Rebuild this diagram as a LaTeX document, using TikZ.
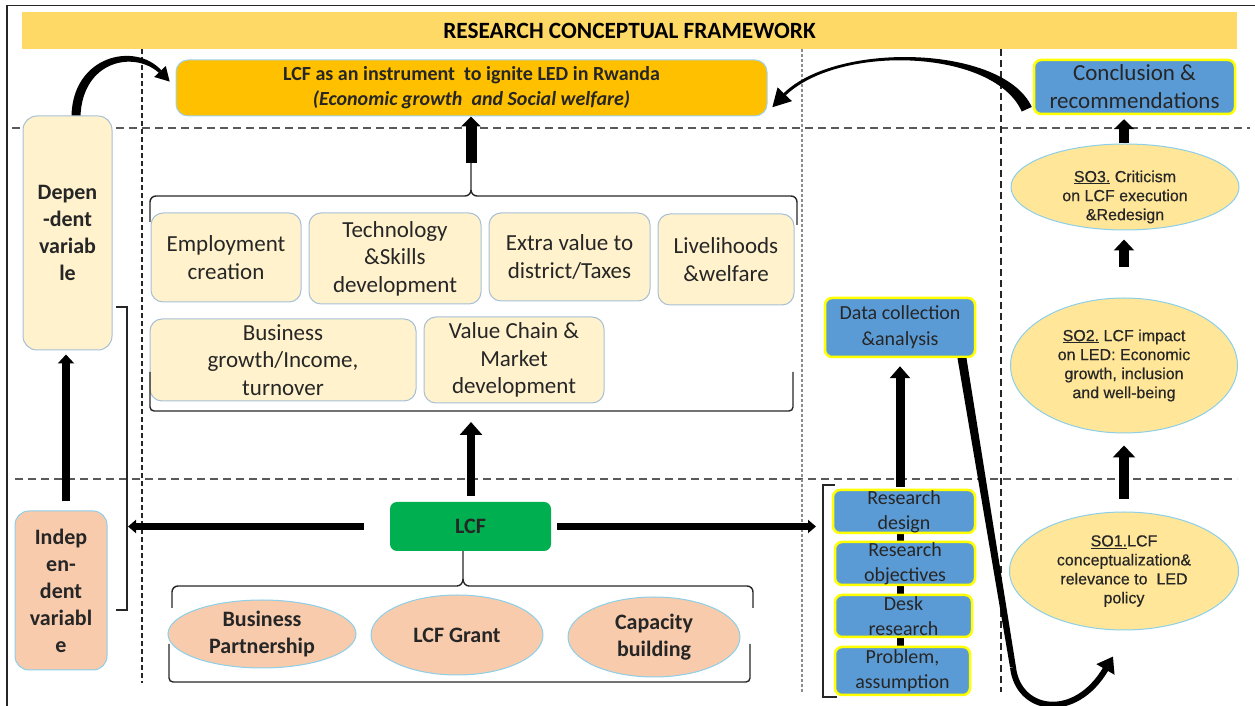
\documentclass[tikz,border=0pt]{standalone}
\usepackage{fontspec}
\setmainfont{Carlito}
\newfontfamily\arialf[FakeBold=0.5]{Liberation Sans}
\usetikzlibrary{arrows.meta,shapes.geometric,calc}
\pgfdeclarelayer{bg}
\pgfsetlayers{bg,main}
\definecolor{band}{HTML}{FFD966}
\definecolor{gold}{HTML}{FFC000}
\definecolor{goldline}{HTML}{9FD3EA}
\definecolor{blueb}{HTML}{5B9BD5}
\definecolor{yel}{HTML}{FFFF00}
\definecolor{cream}{HTML}{FFF2CC}
\definecolor{creamline}{HTML}{A7BFD6}
\definecolor{peach}{HTML}{F8CBAD}
\definecolor{cyanline}{HTML}{8CCFE8}
\definecolor{sand}{HTML}{FFE699}
\definecolor{lcfgreen}{HTML}{00B050}
\definecolor{ink}{HTML}{262626}
\definecolor{dashgray}{HTML}{595959}
\definecolor{dotgray}{HTML}{8C8C8C}
\begin{document}
\begin{tikzpicture}[x=1pt,y=1pt,
  every node/.style={inner sep=0pt, text=ink},
  fat/.style={line width=9pt, draw=black, -{Triangle[width=20pt,length=12pt]}},
  slim/.style={line width=7pt, draw=black, -{Triangle[width=13pt,length=8pt]}},
  brk/.style={draw=ink, line width=1.4pt},
  effbox/.style={draw=creamline, line width=1pt, fill=cream, rounded corners=12pt, align=center, font=\fontsize{23}{27.5}\selectfont},
  bluebox/.style={draw=yel, line width=2.5pt, fill=blueb, rounded corners=7pt, align=center},
  rtext/.style={align=center, font=\fontsize{20}{25}\selectfont},
  peachell/.style={draw=cyanline, line width=1pt, fill=peach, ellipse},
  soell/.style={draw=cyanline, line width=1pt, fill=sand, ellipse},
  sotext/.style={align=center, font=\arialf\fontsize{16}{19}\selectfont},
  boldtxt/.style={align=center, font=\fontsize{22}{27}\selectfont\bfseries},
  hdash/.style={draw=dashgray, line width=2pt, dash pattern=on 8pt off 5pt},
]
\useasboundingbox (0,0) rectangle (1255,706);

% page frame
\draw[line width=1.2pt, draw=ink] (7,0) -- (7,700.5) -- (1255,700.5);

% title band
\node[fill=band, minimum width=1215pt, minimum height=37pt, font=\fontsize{23.3}{26}\selectfont\bfseries, text=black] (title) at (629.5,675.5) {RESEARCH CONCEPTUAL FRAMEWORK};

% ---- goal and outcome boxes
\node[draw=goldline, line width=1pt, fill=gold, rounded corners=12pt, minimum width=591pt, minimum height=56pt, align=center, font=\fontsize{20}{25}\selectfont\bfseries] (top) at (471.5,618)
  {LCF as an instrument\ \ to ignite LED in Rwanda\\\textit{(Economic growth\ \ and Social welfare)}};
\node[bluebox, minimum width=201pt, minimum height=54pt, font=\fontsize{23}{28}\selectfont] (concl) at (1134.5,619) {Conclusion \&\\recommendations};

% ---- variables
\node[draw=creamline, fill=cream, line width=1pt, rounded corners=14pt, minimum width=89pt, minimum height=234pt, boldtxt] (dep) at (67.5,473) {Depen\\-dent\\variab\\le};
\node[draw=cyanline, fill=peach, line width=1pt, rounded corners=14pt, minimum width=92pt, minimum height=159pt, boldtxt] (indep) at (61,115.5) {Indep\\en-\\dent\\variabl\\e};

% ---- effects of LCF
\node[effbox, minimum width=150pt, minimum height=89pt] (emp) at (226,448.5) {Employment\\creation};
\node[effbox, minimum width=172pt, minimum height=91pt] (tech) at (395,447.5) {Technology\\\&Skills\\development};
\node[effbox, minimum width=161pt, minimum height=88pt] (extra) at (569.5,449) {Extra value to\\district/Taxes};
\node[effbox, minimum width=136pt, minimum height=91pt] (live) at (726,446.5) {Livelihoods\\\&welfare};
\node[effbox, minimum width=266pt, minimum height=82pt] (biz) at (283,346) {Business\\growth/Income,\\turnover};
\node[effbox, minimum width=180pt, minimum height=86pt] (vc) at (514,346) {Value Chain \&\\Market\\development};

% ---- LCF and its components
\node[fill=lcfgreen, rounded corners=7pt, minimum width=161pt, minimum height=49pt, font=\fontsize{22}{26}\selectfont\bfseries] (lcf) at (470.5,179.5) {LCF};
\node[peachell, minimum width=188pt, minimum height=68pt] (bp) at (262,72) {};
\node[boldtxt] (bpt) at (bp.center) {Business\\Partnership};
\node[peachell, minimum width=172pt, minimum height=80pt] (grant) at (457,71) {};
\node[boldtxt] (grantt) at (grant.center) {LCF Grant};
\node[peachell, minimum width=172pt, minimum height=80pt] (cap) at (654,69) {};
\node[boldtxt] (capt) at (cap.center) {Capacity\\building};

% ---- research steps
\node[bluebox, minimum width=150pt, minimum height=59pt, font=\fontsize{20}{26}\selectfont] (dc) at (900,378.5) {Data collection\\\&analysis};
\node[bluebox, minimum width=142pt, minimum height=43pt] (rd) at (904,194.5) {};
\node[rtext] (rdt) at (rd.center) {Research\\design};
\node[bluebox, minimum width=140pt, minimum height=43pt] (ro) at (905,142.5) {};
\node[rtext] (rot) at (ro.center) {Research\\objectives};
\node[bluebox, minimum width=137pt, minimum height=42pt] (dr) at (903.5,90) {};
\node[rtext] (drt) at (dr.center) {Desk\\research};
\node[bluebox, minimum width=135pt, minimum height=48pt] (pa) at (902.5,35) {};
\node[rtext] (pat) at (pa.center) {Problem,\\assumption};

% ---- specific objectives
\node[soell, minimum width=228pt, minimum height=86pt] (so3) at (1125,519) {};
\node[sotext] (so3t) at ($(so3.center)+(0,-10)$) {\underline{SO3.} Criticism\\on LCF execution\\\&Redesign};
\node[soell, minimum width=227pt, minimum height=135pt] (so2) at (1124,340.5) {};
\node[sotext] (so2t) at (so2.center) {\underline{SO2.} LCF impact\\on LED: Economic\\growth, inclusion\\and well-being};
\node[soell, minimum width=229pt, minimum height=118pt] (so1) at (1124,135) {};
\node[sotext] (so1t) at (so1.center) {\underline{SO1.}LCF\\conceptualization\&\\relevance to\ \ LED\\policy};

% ---- section guides and links hidden behind the boxes
\begin{pgfonlayer}{bg}
  \draw[hdash] (12,578) -- (1250,578);
  \draw[hdash] (15,227) -- (1237,227);
  \draw[ink, line width=1.3pt, dash pattern=on 5pt off 3pt] (142,657) -- (142,23);
  \draw[dotgray, line width=2.6pt, dash pattern=on 3pt off 2pt] (802,657) -- (802,14);
  \draw[ink, line width=1.3pt, dash pattern=on 7pt off 4pt] (1001,657) -- (1001,14);
  \draw[line width=7pt] ($(rd.south)+(-4,2)$) -- ($(ro.north)+(-5,-2)$);
  \draw[line width=7pt] ($(ro.south)+(-5,2)$) -- ($(dr.north)+(-3.5,-2)$);
  \draw[line width=7pt] ($(dr.south)+(-3.5,2)$) -- ($(pa.north)+(-2.5,-2)$);
\end{pgfonlayer}

% ---- brackets
\coordinate (effcusp) at (471,543);
\draw[brk] (150,484) -- (150,504) to[out=90,in=180] (156,510) -- (465,510) to[out=0,in=-90] (471,516) -- (effcusp);
\draw[brk] (471,516) to[out=-90,in=180] (477,510) -- (791,510) to[out=0,in=90] (797,504) -- (797,481);
\draw[brk, rounded corners=4pt] (150,334) |- (793,295) -- (793,334);
\coordinate (effbase) at (471,284);

\coordinate (lcfcusp) at (463,127);
\draw[brk] (172,98) -- (172,114) to[out=90,in=180] (178,120) -- (457,120) to[out=0,in=-90] (lcfcusp) -- (lcf.south -| lcfcusp);
\draw[brk] (lcfcusp) to[out=-90,in=180] (469,120) -- (747,120) to[out=0,in=90] (753,114) -- (753,98);
\draw[brk, rounded corners=4pt] (169,62) |- (750,24) -- (750,62);

\draw[brk] (116,399) -- (127,399) -- (127,96) -- (116,96);
\coordinate (depbrk) at (128,179.5);
\draw[brk] (835,221) -- (823,221) -- (823,9) -- (837,9);
\coordinate (resbrk) at (816,179.5);

% ---- straight arrows
\draw[fat, line width=8pt, -{Triangle[width=16pt,length=9pt]}] ($(indep.north)+(5,9)$) -- ($(dep.south)+(-1.5,-4)$);
\draw[slim] ($(lcf.west)+(-26,0)$) -- (depbrk);
\draw[slim] ($(lcf.east)+(6,0)$) -- (resbrk);
\draw[fat, line width=8pt, -{Triangle[width=22pt,length=13pt]}] ($(lcf.north)+(0.5,6)$) -- (effbase);
\draw[fat, line width=11pt, -{Triangle[width=19pt,length=10pt]}] (effcusp) -- (effcusp |- top.south);
\draw[fat] ($(rd.north)+(-4,2)$) -- ($(dc.south)+(0,-8)$);
\draw[fat, line width=10pt, -{Triangle[width=22pt,length=12pt]}] ($(so1.north)+(0,12)$) -- ($(so2.south)+(0,-12)$);
\draw[fat, line width=10pt, -{Triangle[width=20pt,length=11pt]}] ($(so2.north)+(0,30)$) -- ($(so3.south)+(-1,-9)$);
\draw[fat, line width=10pt, -{Triangle[width=20pt,length=10pt]}] ($(so3.north)+(-1,0)$) -- ($(concl.south)+(-10.5,-4)$);

% ---- curved arrows (tapered)
\begin{scope}[shift={(dep.north)}]
  \fill[black] (4,0) .. controls (5.5,60) and (67.5,74) .. (93.8,45.2) -- (91.2,42.8) .. controls (66.5,65) and (15.5,55) .. (13,0) -- cycle;
  \fill[black] (98.3,49.5) -- (102.2,33.9) -- (86.7,38.5) -- cycle;
\end{scope}
\begin{scope}[shift={(concl.south west)}]
  \fill[black] (-1,8.3) .. controls (-29.5,70) and (-195.4,74.4) .. (-249.1,22) -- (-246.9,20) .. controls (-192.6,71.6) and (-38.5,66) .. (-11,3.7) -- cycle;
  \fill[black] (-255.2,27.9) -- (-260.4,8) -- (-240.8,14.1) -- cycle;
\end{scope}
\coordinate (so1in) at ($(so1.south)+(-11,-26)$);
\begin{scope}[shift={(dc.south)}]
  \fill[black] (57.5,0) -- (66.5,0) -- (116,-309) -- (110,-309) -- cycle;
\end{scope}
\draw[line width=6pt, -{Triangle[width=20pt,length=15pt]}] ($(dc.south)+(113,-309)$) .. controls +(5,-45) and +(-38,-65) .. (so1in);

\end{tikzpicture}
\end{document}
